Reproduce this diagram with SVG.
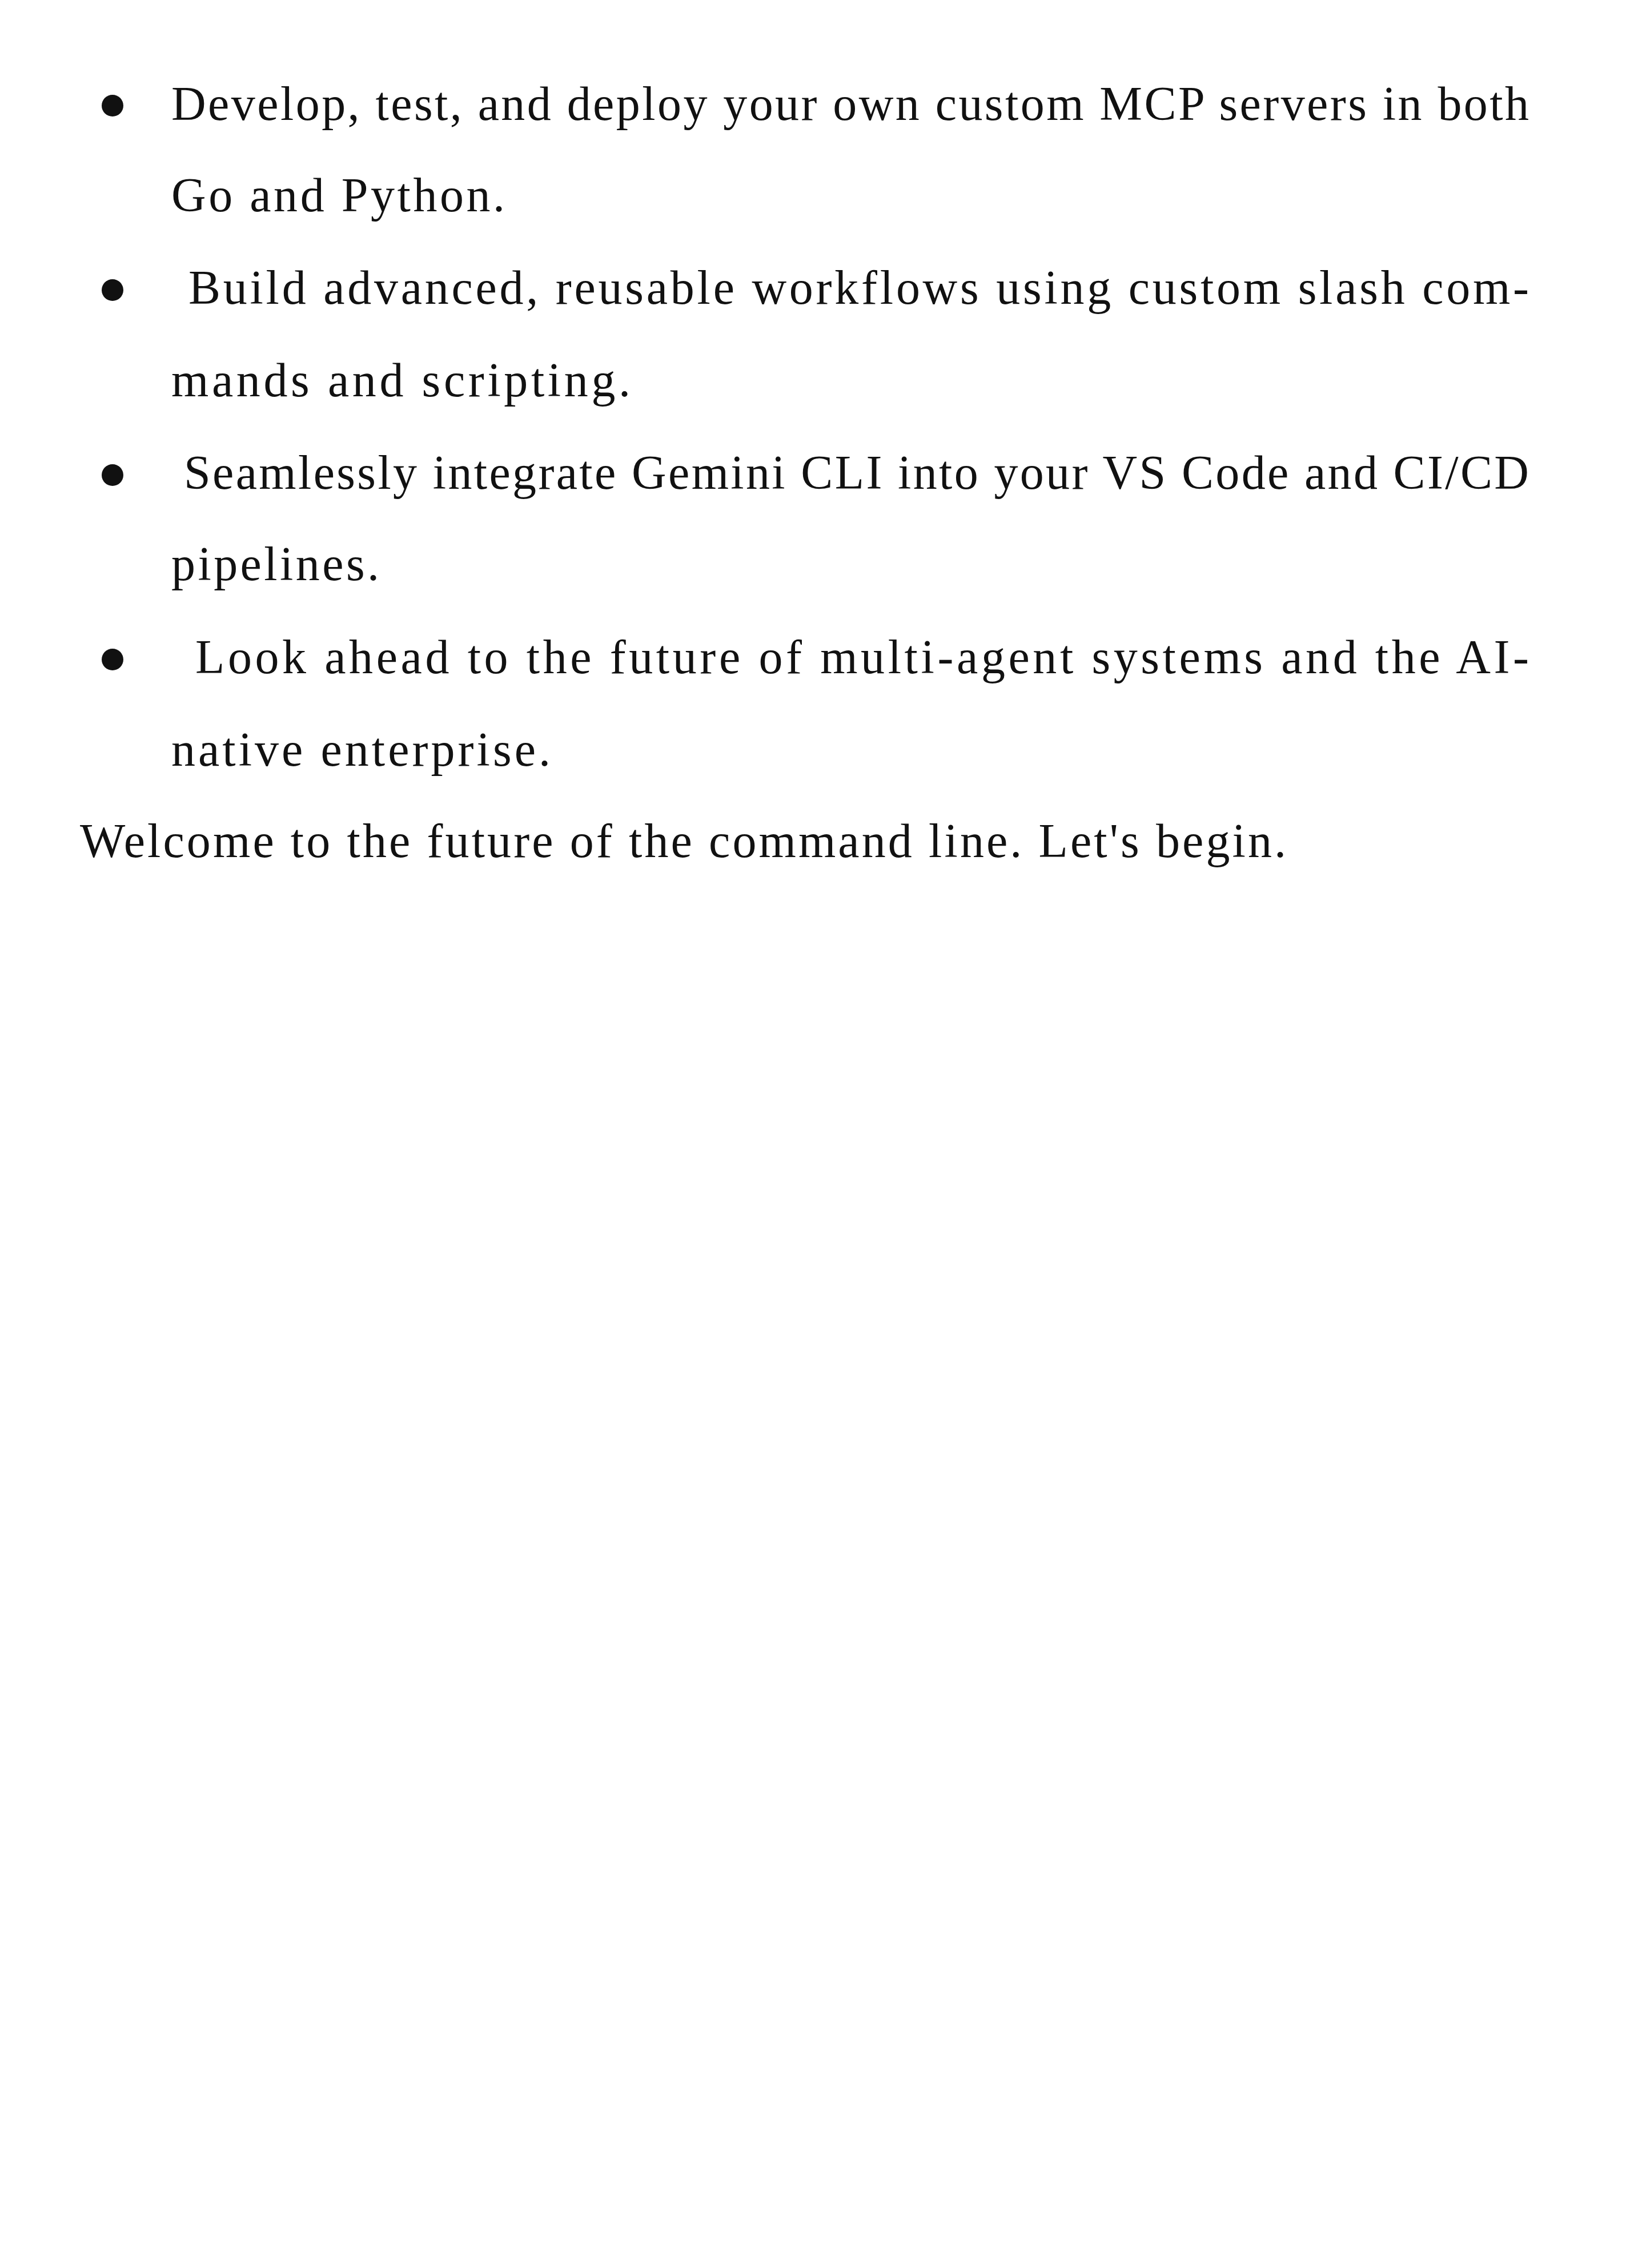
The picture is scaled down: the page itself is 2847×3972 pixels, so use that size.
<svg xmlns="http://www.w3.org/2000/svg" width="2847" height="3972" viewBox="0 0 2847 3972">
<style>
text{font-family:"Liberation Serif","DejaVu Serif",serif;font-size:84px;fill:#111}
.b{fill:#111}
</style>
<rect width="2847" height="3972" fill="#fff"/>
<g id="bullet1"><circle class="b" cx="197" cy="185" r="19"/>
<text x="300" y="210" textLength="2377" lengthAdjust="spacing">Develop, test, and deploy your own custom MCP servers in both</text>
<text x="300" y="370" textLength="584" lengthAdjust="spacing">Go and Python.</text></g>
<g id="bullet2"><circle class="b" cx="197" cy="508" r="19"/>
<text x="330" y="532" textLength="2347" lengthAdjust="spacing">Build advanced, reusable workflows using custom slash com-</text>
<text x="300" y="694" textLength="804" lengthAdjust="spacing">mands and scripting.</text></g>
<g id="bullet3"><circle class="b" cx="197" cy="832" r="19"/>
<text x="322" y="856" textLength="2355" lengthAdjust="spacing">Seamlessly integrate Gemini CLI into your VS Code and CI/CD</text>
<text x="300" y="1016" textLength="364" lengthAdjust="spacing">pipelines.</text></g>
<g id="bullet4"><circle class="b" cx="197" cy="1155" r="19"/>
<text x="342" y="1179" textLength="2335" lengthAdjust="spacing">Look ahead to the future of multi-agent systems and the AI-</text>
<text x="300" y="1341" textLength="664" lengthAdjust="spacing">native enterprise.</text></g>
<g id="closing"><text x="140" y="1501" textLength="2112" lengthAdjust="spacing">Welcome to the future of the command line. Let's begin.</text></g>
<g id="connectors"/>
</svg>
